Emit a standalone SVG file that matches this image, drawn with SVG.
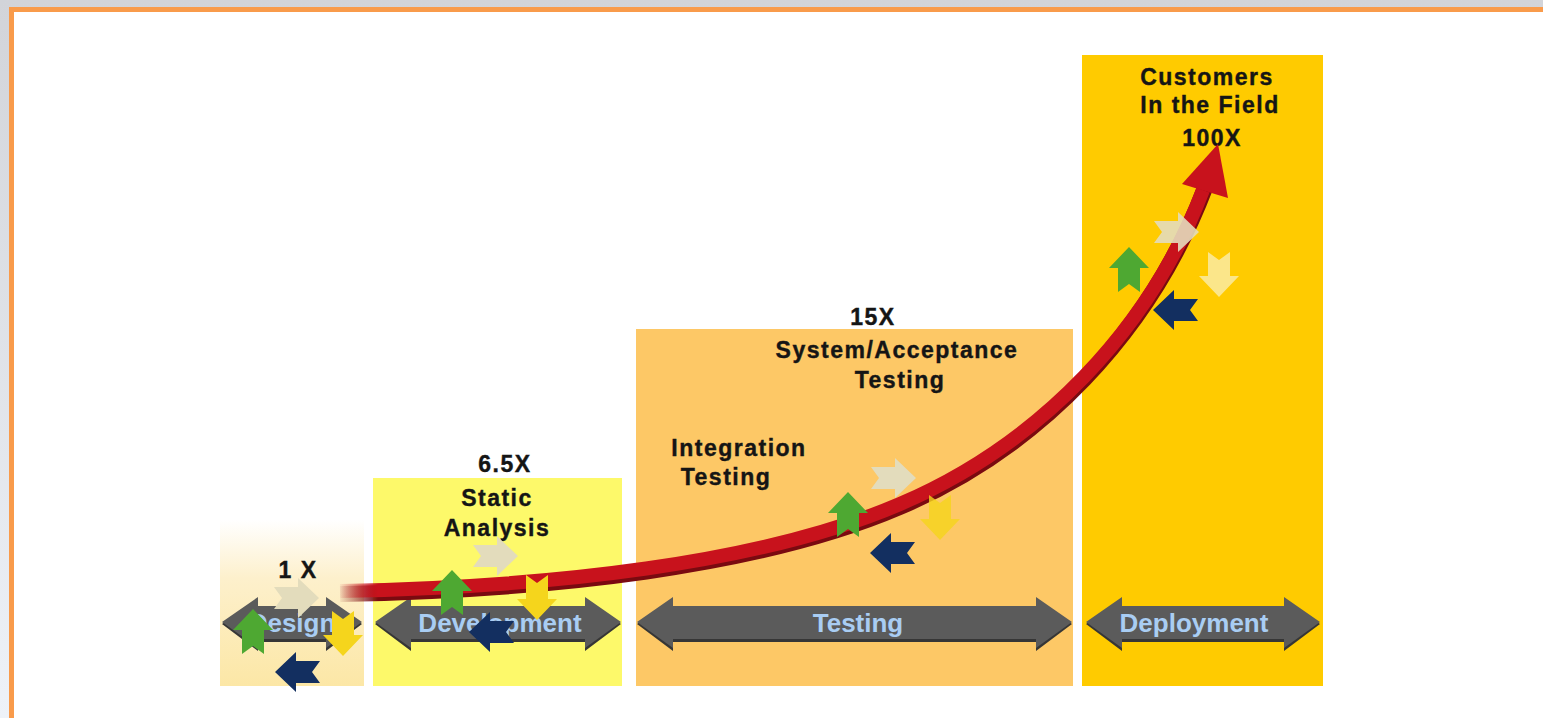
<svg xmlns="http://www.w3.org/2000/svg" width="1543" height="718" viewBox="0 0 1543 718">
  <defs>
    <style>
      .lbl { font-family: "Liberation Sans", Arial, sans-serif; font-weight: bold; font-size: 23px; letter-spacing: 1.5px; fill: #151515; text-anchor: middle; stroke: #151515; stroke-width: 0.4px; }
      .phase { font-family: "Liberation Sans", Arial, sans-serif; font-weight: bold; font-size: 26px; fill: #a9cdf3; text-anchor: middle; }
      .bar { fill: #5b5b5b; }
      .barShade { fill: #363636; }
      .cream { fill: #e3dcbc; }
      .green { fill: #4ea832; }
      .yel { fill: #f5d51c; }
      .navy { fill: #132f60; }
    </style>
    <linearGradient id="bgGrad" x1="0" y1="0" x2="0" y2="1">
      <stop offset="0" stop-color="#d2d4d9"/>
      <stop offset="1" stop-color="#eef2f8"/>
    </linearGradient>
    <linearGradient id="designGrad" x1="0" y1="0" x2="0" y2="1">
      <stop offset="0" stop-color="#ffffff"/>
      <stop offset="0.35" stop-color="#fdf0cc"/>
      <stop offset="1" stop-color="#fce7a6"/>
    </linearGradient>
    <linearGradient id="redFade" gradientUnits="userSpaceOnUse" x1="338" y1="0" x2="378" y2="0">
      <stop offset="0" stop-color="#c8121c" stop-opacity="0"/>
      <stop offset="1" stop-color="#c8121c" stop-opacity="1"/>
    </linearGradient>
    <linearGradient id="redEdge" gradientUnits="userSpaceOnUse" x1="338" y1="0" x2="378" y2="0">
      <stop offset="0" stop-color="#7a0a10" stop-opacity="0"/>
      <stop offset="1" stop-color="#7a0a10" stop-opacity="1"/>
    </linearGradient>
    <!-- small cycle arrow, pointing right, centred on 0,0 -->
    <path id="tick" d="M-22,-11 L2,-11 L2,-20 L23,0 L2,20 L2,11 L-22,11 L-14,0 Z"/>
  </defs>

  <!-- page frame -->
  <rect x="0" y="0" width="1543" height="718" fill="url(#bgGrad)"/>
  <rect x="9" y="7" width="1534" height="711" fill="#f99b4b"/>
  <rect x="14" y="12" width="1529" height="706" fill="#ffffff"/>

  <!-- stage: design -->
  <g id="design">
    <rect x="220" y="520" width="144" height="166" fill="url(#designGrad)"/>
    <path class="barShade" d="M222,624 L258,599 L258,608 L326,608 L326,599 L362,624 L326,651 L326,642 L258,642 L258,651 Z"/>
    <path class="bar" d="M222,622 L258,597 L258,606 L326,606 L326,597 L362,622 L326,648 L326,639 L258,639 L258,648 Z"/>
    <text class="phase" x="292" y="632">Design</text>
    <text class="lbl" x="298" y="578">1 X</text>
  </g>

  <!-- stage: development -->
  <g id="development">
    <rect x="373" y="478" width="249" height="208" fill="#fdf96a"/>
    <path class="barShade" d="M375,624 L411,599 L411,608 L585,608 L585,599 L621,624 L585,651 L585,642 L411,642 L411,651 Z"/>
    <path class="bar" d="M375,622 L411,597 L411,606 L585,606 L585,597 L621,622 L585,648 L585,639 L411,639 L411,648 Z"/>
    <text class="phase" x="500" y="632">Development</text>
    <text class="lbl" x="505" y="472">6.5X</text>
    <text class="lbl" x="497" y="506">Static</text>
    <text class="lbl" x="497" y="536">Analysis</text>
  </g>

  <!-- stage: testing -->
  <g id="testing">
    <rect x="636" y="329" width="437" height="357" fill="#fdc866"/>
    <path class="barShade" d="M637,624 L673,599 L673,608 L1036,608 L1036,599 L1072,624 L1036,651 L1036,642 L673,642 L673,651 Z"/>
    <path class="bar" d="M637,622 L673,597 L673,606 L1036,606 L1036,597 L1072,622 L1036,648 L1036,639 L673,639 L673,648 Z"/>
    <text class="phase" x="858" y="632">Testing</text>
    <text class="lbl" x="873" y="325">15X</text>
    <text class="lbl" x="897" y="358">System/Acceptance</text>
    <text class="lbl" x="900" y="388">Testing</text>
    <text class="lbl" x="739" y="456">Integration</text>
    <text class="lbl" x="726" y="485">Testing</text>
  </g>

  <!-- stage: deployment -->
  <g id="deployment">
    <rect x="1082" y="55" width="241" height="631" fill="#ffcb00"/>
    <path class="barShade" d="M1086,624 L1122,599 L1122,608 L1284,608 L1284,599 L1320,624 L1284,651 L1284,642 L1122,642 L1122,651 Z"/>
    <path class="bar" d="M1086,622 L1122,597 L1122,606 L1284,606 L1284,597 L1320,622 L1284,648 L1284,639 L1122,639 L1122,648 Z"/>
    <text class="phase" x="1194" y="632">Deployment</text>
    <text class="lbl" x="1207" y="85">Customers</text>
    <text class="lbl" x="1210" y="113">In the Field</text>
    <text class="lbl" x="1212" y="146">100X</text>
  </g>

  <!-- connectors: rising cost curve -->
  <g id="connectors">
    <path d="M340,594 C550,590 760,567 900,507 C1040,447 1150,332 1205,188" fill="none" stroke="url(#redEdge)" stroke-width="16"/>
    <path d="M340,591 C550,587 760,564 900,504 C1040,444 1150,329 1203,190" fill="none" stroke="url(#redFade)" stroke-width="14"/>
    <polygon points="1182,184 1218,144 1228,198" fill="#c8121c"/>
  </g>

  <!-- cycle icons -->
  <g id="cycle-design">
    <use href="#tick" class="cream" transform="translate(296,598)"/>
    <use href="#tick" class="green" transform="translate(253,632) rotate(-90)"/>
    <use href="#tick" class="yel" transform="translate(343,633) rotate(90)"/>
    <use href="#tick" class="navy" transform="translate(298,672) rotate(180)"/>
  </g>
  <g id="cycle-development">
    <use href="#tick" class="cream" transform="translate(495,556)"/>
    <use href="#tick" class="green" transform="translate(452,593) rotate(-90)"/>
    <use href="#tick" class="yel" transform="translate(537,597) rotate(90)"/>
    <use href="#tick" class="navy" transform="translate(492,632) rotate(180)"/>
  </g>
  <g id="cycle-testing">
    <use href="#tick" class="cream" transform="translate(893,478)"/>
    <use href="#tick" class="green" transform="translate(848,515) rotate(-90)"/>
    <use href="#tick" class="yel" transform="translate(940,517) rotate(90)" opacity="0.8"/>
    <use href="#tick" class="navy" transform="translate(893,553) rotate(180)"/>
  </g>
  <g id="cycle-deployment">
    <use href="#tick" class="cream" transform="translate(1176,232)" opacity="0.9"/>
    <use href="#tick" class="green" transform="translate(1129,270) rotate(-90)"/>
    <use href="#tick" transform="translate(1219,274) rotate(90)" style="fill:#fbe68a"/>
    <use href="#tick" class="navy" transform="translate(1176,310) rotate(180)"/>
  </g>
</svg>
